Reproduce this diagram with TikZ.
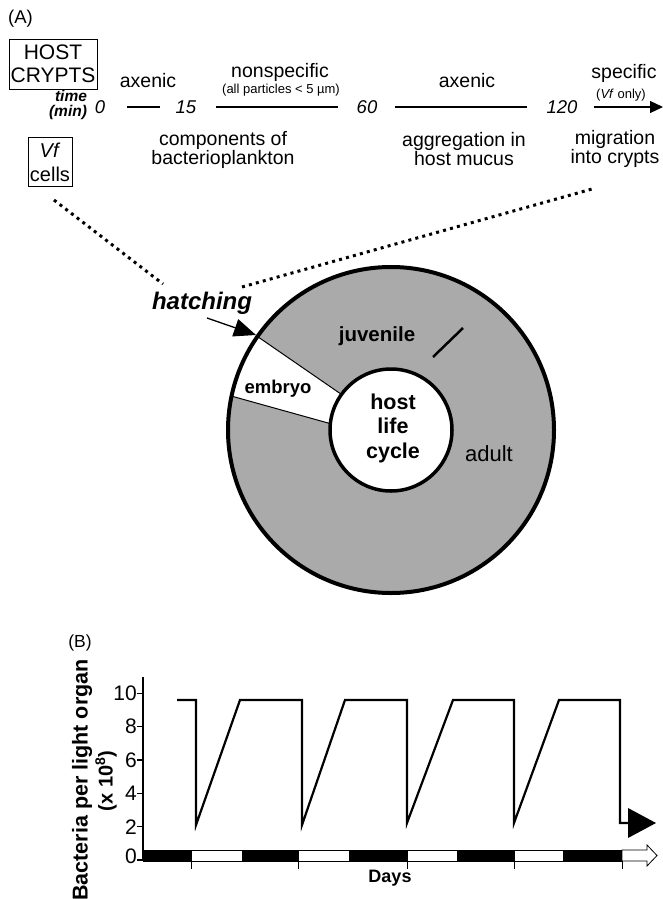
\documentclass[tikz,border=0pt]{standalone}
\usepackage{fontspec}
\setmainfont{Liberation Sans}
\usetikzlibrary{arrows.meta,calc}
\definecolor{ringgray}{HTML}{AAAAAA}
\begin{document}
\begin{tikzpicture}[x=1pt,y=-1pt,
  txt/.style={font=\fontsize{19.5}{17.5}\selectfont,align=center,inner sep=0pt},
  small/.style={font=\fontsize{13}{13}\selectfont,align=center,inner sep=0pt},
  num/.style={font=\fontsize{18.5}{18.5}\selectfont\itshape,inner sep=0pt},
  ringtxt/.style={font=\fontsize{21.5}{24.5}\selectfont\bfseries,align=center,inner sep=0pt},
  tline/.style={line width=1.2pt},
  dotline/.style={line width=3pt,dash pattern=on 3pt off 4.2pt},
  ticklab/.style={font=\fontsize{21}{21}\selectfont,anchor=east,inner sep=0pt},
  curve/.style={line width=2.2pt,line join=miter}
]
\useasboundingbox (0,0) rectangle (663,899);

% ---------- Panel A ----------
\node[font=\fontsize{18.5}{18.5}\selectfont,inner sep=0pt,anchor=west] (labA) at (8,19) {(A)};
\node[draw,line width=0.8pt,minimum width=88pt,minimum height=50pt,inner sep=0pt,align=center,
      font=\fontsize{21}{22.5}\selectfont] (host) at (53,64) {HOST\\CRYPTS};
\node[draw,line width=0.8pt,minimum width=44pt,minimum height=49pt,inner sep=0pt,align=center,
      font=\fontsize{20}{24}\selectfont] (vf) at (50,162) {\textit{Vf}\\cells};
\node[font=\fontsize{15.5}{15}\selectfont\bfseries\itshape,align=right,inner sep=0pt] (time) at (68,105) {time\\(min)};

\node[num] (t0) at (100,107) {0};
\node[num] (t15) at (186,107) {15};
\node[num] (t60) at (367,107) {60};
\node[num] (t120) at (562,107) {120};
\coordinate (tend) at (663,107);

\draw[tline] ([xshift=22pt]t0.east) -- ([xshift=-16pt]t15.west);
\draw[tline] ([xshift=20pt]t15.east) -- ([xshift=-19pt]t60.west);
\draw[tline] ([xshift=18pt]t60.east) -- ([xshift=-19pt]t120.west);
\draw[tline,-{Triangle[length=13pt,width=12pt]}] ([xshift=16pt]t120.east) -- (tend);

\node[txt] (ax1) at (148,81) {axenic};
\node[txt] (nonsp) at (280,72.5) {nonspecific};
\node[small] (allp) at (281,90) {(all particles < 5 µm)};
\node[txt] (comp) at (223,150) {components of\\bacterioplankton};
\node[txt] (ax2) at (467,81) {axenic};
\node[txt] (aggr) at (464,149) {aggregation in\\host mucus};
\node[txt] (spec) at (624,73) {specific};
\node[small] (vfonly) at (621,95) {(\textit{Vf} only)};
\node[txt] (migr) at (615,149) {migration\\into crypts};

% zoom lines
\coordinate (dl1) at (54,200);
\coordinate (dl2) at (163,284);
\coordinate (dr1) at (242,287);
\coordinate (dr2) at (592,189);
\draw[dotline] (dl1) -- (dl2);
\draw[dotline] (dr1) -- (dr2);

% ring
\coordinate (c) at (391,430);
\fill[ringgray] (c) circle[radius=163];
\fill[white] ($(c)+(-145:163)$) arc[start angle=-145,end angle=-168,radius=163]
   -- ($(c)+(-174:61)$) -- ($(c)+(-144:61)$) -- cycle;
\draw[line width=1pt] ($(c)+(-145:163)$) -- ($(c)+(-144.3:61)$);
\draw[line width=1pt] ($(c)+(-168:163)$) -- ($(c)+(-174:61)$);
\draw[line width=4pt] (c) circle[radius=163];
\draw[line width=3.5pt,fill=white] (c) circle[radius=61];
\draw[line width=2.5pt] (433,357) -- (463,328);

\node[ringtxt] (life) at (393,428) {host\\life\\cycle};
\node[ringtxt,font=\fontsize{20.5}{20.5}\selectfont\bfseries] (juv) at (377,336) {juvenile};
\node[ringtxt,font=\fontsize{18.5}{18.5}\selectfont\bfseries] (emb) at (278,389) {embryo};
\node[font=\fontsize{22}{22}\selectfont,inner sep=0pt] (adult) at (489,454) {adult};

\node[font=\fontsize{24}{24}\selectfont\bfseries\itshape,inner sep=0pt] (hatch) at (202,303) {hatching};
\coordinate (ha) at (207,318);
\coordinate (hb) at (256,335);
\draw[line width=1.3pt,-{Triangle[length=22pt,width=18pt]}] (ha) -- (hb);

% ---------- Panel B ----------
\node[font=\fontsize{17.5}{17.5}\selectfont,inner sep=0pt] (labB) at (80,643) {(B)};
\node[rotate=90,font=\fontsize{21.5}{21.5}\selectfont\bfseries,inner sep=0pt] (ylab) at (82,780) {Bacteria per light organ};
\node[rotate=90,font=\fontsize{20}{20}\selectfont\bfseries,inner sep=0pt] (ylab2) at (106,781) {(x 10\textsuperscript{8})};

\draw[line width=1.2pt] (143,677) -- (143,861);
\foreach \yy in {860,826.7,793.3,760,726.7,693.3}{
  \draw[line width=1.2pt] (137,\yy) -- (143,\yy);
}
\node[ticklab] (l10) at (137,693.3) {10};
\node[ticklab] (l8) at (137,726.7) {8};
\node[ticklab] (l6) at (137,760) {6};
\node[ticklab] (l4) at (137,793.3) {4};
\node[ticklab] (l2) at (137,826.7) {2};
\node[ticklab] (l0) at (137,856) {0};

% day/night bar
\foreach \a/\b/\col in {143/191/black,191/242/white,242/298/black,298/349/white,349/407/black,407/457/white,457/514/black,514/563/white,563/622/black}{
  \filldraw[fill=\col,draw=black,line width=0.8pt] (\a,850) rectangle (\b,861);
}
\draw[line width=0.8pt,fill=white] (622,850) -- (647,850) -- (647,845) -- (657,855.5) -- (647,866) -- (647,861) -- (622,861) -- cycle;
\foreach \x in {191,298,407,514,622}{
  \draw[line width=1pt] (\x,861) -- (\x,869);
}
\node[font=\fontsize{18}{18}\selectfont\bfseries,inner sep=0pt] (days) at (390,878) {Days};

% curve
\draw[curve] (177,700) -- (196,700) -- (196,825) -- (240,700) -- (302,700) -- (302,825)
  -- (345,700) -- (407,700) -- (407,823) -- (453,700) -- (514,700) -- (514,823)
  -- (559,700) -- (620,700) -- (620,823) -- (630,823);
\fill (628,808) -- (656,823) -- (628,838) -- cycle;
\end{tikzpicture}
\end{document}
